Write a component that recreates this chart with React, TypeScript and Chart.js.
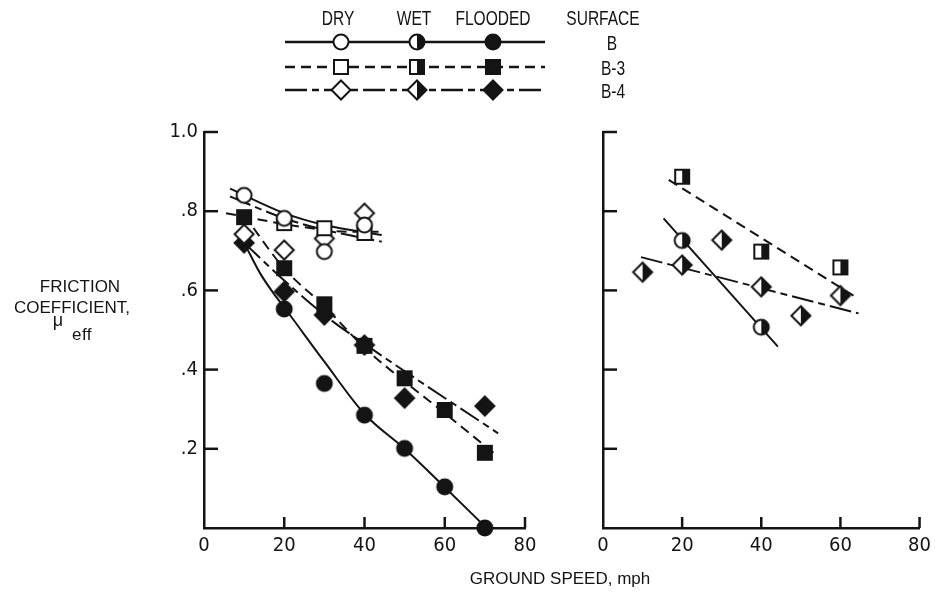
import React, { useEffect, useRef } from 'react';
import { Chart, registerables } from 'chart.js';

Chart.register(...registerables);

const PAGE_W = 937;
const PAGE_H = 594;
const INK = '#141414';
const TEXT_FONT = "'Liberation Sans', Arial, sans-serif";
const TICK_FONT = "'Liberation Sans Narrow', 'DejaVu Sans Condensed', 'Liberation Sans', Arial, sans-serif";

// ---- Axis ticks ----
const xTickLabels = ['0', '20', '40', '60', '80'];
const yTickLabels = ['', '.2', '.4', '.6', '.8', '1.0'];

// ---- Measured points, ground speed (mph) vs effective friction coefficient ----
// Dry runs (left panel)
const dryB_speed = [10, 20, 30, 40];
const dryB_mu = [0.84, 0.782, 0.698, 0.765];
const dryB3_speed = [20, 30, 40];
const dryB3_mu = [0.77, 0.757, 0.745];
const dryB4_speed = [10, 20, 30, 40];
const dryB4_mu = [0.742, 0.702, 0.731, 0.795];

// Flooded runs (left panel)
const floodB_speed = [20, 30, 40, 50, 60, 70];
const floodB_mu = [0.553, 0.365, 0.285, 0.201, 0.104, 0.0];
const floodB3_speed = [10, 20, 30, 40, 50, 60, 70];
const floodB3_mu = [0.785, 0.656, 0.565, 0.46, 0.378, 0.298, 0.19];
const floodB4_speed = [10, 20, 30, 40, 50, 70];
const floodB4_mu = [0.72, 0.597, 0.538, 0.462, 0.328, 0.308];

// Wet runs (right panel)
const wetB_speed = [20, 40];
const wetB_mu = [0.726, 0.507];
const wetB3_speed = [20, 40, 60];
const wetB3_mu = [0.887, 0.698, 0.658];
const wetB4_speed = [10, 20, 30, 40, 50, 60];
const wetB4_mu = [0.646, 0.664, 0.727, 0.609, 0.536, 0.587];

// ---- Faired curves ----
const fairDryB_speed = [6.5, 20, 30, 44.3];
const fairDryB_mu = [0.857, 0.795, 0.765, 0.74];
const fairDryB3_speed = [5.5, 24, 36.4, 44.3];
const fairDryB3_mu = [0.795, 0.761, 0.748, 0.748];
const fairDryB4_speed = [6.5, 20, 30, 44.3];
const fairDryB4_mu = [0.837, 0.782, 0.753, 0.723];

const fairFloodB_speed = [10, 14, 17.3, 20.3, 30, 40, 50, 60, 70.4];
const fairFloodB_mu = [0.72, 0.643, 0.593, 0.553, 0.42, 0.288, 0.2, 0.103, 0.0];
const fairFloodB3_speed = [10, 20, 30, 40, 50, 60, 73.3];
const fairFloodB3_mu = [0.79, 0.655, 0.56, 0.455, 0.37, 0.29, 0.18];
const fairFloodB4_speed = [10, 20, 30, 40, 73.3];
const fairFloodB4_mu = [0.72, 0.625, 0.538, 0.465, 0.239];

const fairWetB_speed = [15.3, 44.2];
const fairWetB_mu = [0.782, 0.458];
const fairWetB3_speed = [16.6, 64.4];
const fairWetB3_mu = [0.879, 0.58];
const fairWetB4_speed = [9.6, 64.6];
const fairWetB4_mu = [0.684, 0.542];

// ---- Key ----
const legendConditions = ['DRY', 'WET', 'FLOODED'];
const legendSurfaces = ['B', 'B-3', 'B-4'];
const surfaceDash: number[][] = [[], [10, 6], [22, 5, 7, 5]];

type Shape = 'circle' | 'square' | 'diamond';
type Fill = 'open' | 'half' | 'full';

function makeMarker(shape: Shape, fill: Fill): HTMLCanvasElement {
  const size = 24;
  const c = document.createElement('canvas');
  c.width = size;
  c.height = size;
  const ctx = c.getContext('2d')!;
  const m = size / 2;
  const path = () => {
    ctx.beginPath();
    if (shape === 'circle') ctx.arc(m, m, 7.5, 0, Math.PI * 2);
    else if (shape === 'square') ctx.rect(m - 7, m - 7, 14, 14);
    else {
      ctx.moveTo(m, m - 9.5);
      ctx.lineTo(m + 9.5, m);
      ctx.lineTo(m, m + 9.5);
      ctx.lineTo(m - 9.5, m);
      ctx.closePath();
    }
  };
  path();
  ctx.fillStyle = fill === 'full' ? INK : '#ffffff';
  ctx.fill();
  if (fill === 'half') {
    ctx.save();
    path();
    ctx.clip();
    ctx.fillStyle = INK;
    ctx.fillRect(m, 0, m, size);
    ctx.restore();
  }
  path();
  ctx.lineWidth = 2;
  ctx.strokeStyle = INK;
  ctx.stroke();
  return c;
}

const pts = (xs: number[], ys: number[]) => xs.map((x, i) => ({ x, y: ys[i] }));

function markerSet(xs: number[], ys: number[], img: HTMLCanvasElement) {
  return {
    data: pts(xs, ys),
    pointStyle: img,
    pointRadius: 8,
    showLine: false,
    clip: false,
    order: 0,
  };
}

function fairSet(xs: number[], ys: number[], dash: number[], curved = false) {
  return {
    data: pts(xs, ys),
    showLine: true,
    pointRadius: 0,
    borderColor: INK,
    borderWidth: 2,
    borderDash: dash,
    cubicInterpolationMode: curved ? 'monotone' : 'default',
    clip: false,
    order: 1,
  };
}

function xScale() {
  return {
    type: 'linear',
    min: 0,
    max: 80,
    grid: { drawOnChartArea: false, drawTicks: false, color: 'rgba(0,0,0,0)' },
    border: { display: true, color: INK, width: 2.5 },
    ticks: {
      stepSize: 20,
      autoSkip: false,
      maxRotation: 0,
      color: INK,
      font: { family: TICK_FONT, size: 20 },
      padding: 6,
      callback: (_v: number, i: number) => xTickLabels[i],
    },
    afterFit: (s: any) => {
      s.height = 30;
    },
  };
}

function yScale(showLabels: boolean, width: number) {
  return {
    type: 'linear',
    min: 0,
    max: 1,
    grid: { drawOnChartArea: false, drawTicks: false, color: 'rgba(0,0,0,0)' },
    border: { display: true, color: INK, width: 2.5 },
    ticks: {
      display: showLabels,
      stepSize: 0.2,
      autoSkip: false,
      color: INK,
      font: { family: TICK_FONT, size: 20 },
      padding: 6,
      callback: (_v: number, i: number) => yTickLabels[i],
    },
    afterFit: (s: any) => {
      s.width = width;
    },
  };
}

// Tick marks pointing into the plot area
const innerTicks = {
  id: 'innerTicks',
  afterDraw(chart: any) {
    const { ctx, chartArea, scales } = chart;
    ctx.save();
    ctx.strokeStyle = INK;
    ctx.lineWidth = 2.5;
    ctx.setLineDash([]);
    scales.x.ticks.forEach((t: any) => {
      if (t.value === 0) return;
      const px = scales.x.getPixelForValue(t.value);
      ctx.beginPath();
      ctx.moveTo(px, chartArea.bottom);
      ctx.lineTo(px, chartArea.bottom - 11);
      ctx.stroke();
    });
    scales.y.ticks.forEach((t: any) => {
      if (t.value === 0) return;
      const py = scales.y.getPixelForValue(t.value);
      ctx.beginPath();
      ctx.moveTo(chartArea.left, py);
      ctx.lineTo(chartArea.left + 14, py);
      ctx.stroke();
    });
    ctx.restore();
  },
};

const baseOptions = {
  responsive: false,
  animation: false,
  events: [],
  plugins: { legend: { display: false }, tooltip: { enabled: false } },
};

function Txt(props: {
  x: number;
  y: number;
  size: number;
  sx?: number;
  ls?: number;
  children: React.ReactNode;
}) {
  const { x, y, size, sx = 1, ls = 0, children } = props;
  return (
    <div
      style={{
        position: 'absolute',
        left: x,
        top: y,
        transform: `translate(-50%, -50%) scaleX(${sx})`,
        fontFamily: TEXT_FONT,
        fontSize: size,
        lineHeight: 1,
        letterSpacing: ls,
        color: INK,
        whiteSpace: 'nowrap',
      }}
    >
      {children}
    </div>
  );
}

export default function App() {
  const leftRef = useRef<HTMLCanvasElement>(null);
  const rightRef = useRef<HTMLCanvasElement>(null);

  useEffect(() => {
    const mk = {
      circle: { open: makeMarker('circle', 'open'), half: makeMarker('circle', 'half'), full: makeMarker('circle', 'full') },
      square: { open: makeMarker('square', 'open'), half: makeMarker('square', 'half'), full: makeMarker('square', 'full') },
      diamond: { open: makeMarker('diamond', 'open'), half: makeMarker('diamond', 'half'), full: makeMarker('diamond', 'full') },
    };
    const rowShapes: Shape[] = ['circle', 'square', 'diamond'];
    const colFills: Fill[] = ['open', 'half', 'full'];
    const rowY = [42, 67, 90];
    const lineSpan = [285, 545];
    const colX = [341, 417, 493];

    const legendKey = {
      id: 'legendKey',
      afterDraw(chart: any) {
        const ctx = chart.ctx;
        ctx.save();
        legendSurfaces.forEach((_s, r) => {
          const y = rowY[r];
          ctx.beginPath();
          ctx.setLineDash(surfaceDash[r]);
          ctx.lineWidth = 2.5;
          ctx.strokeStyle = INK;
          ctx.moveTo(lineSpan[0], y);
          ctx.lineTo(lineSpan[1], y);
          ctx.stroke();
          ctx.setLineDash([]);
          legendConditions.forEach((_c, c) => {
            const img = (mk as any)[rowShapes[r]][colFills[c]] as HTMLCanvasElement;
            ctx.drawImage(img, colX[c] - img.width / 2, y - img.height / 2);
          });
        });
        ctx.restore();
      },
    };

    const left = new Chart(leftRef.current!, {
      type: 'scatter',
      data: {
        datasets: [
          markerSet(dryB_speed, dryB_mu, mk.circle.open),
          markerSet(dryB3_speed, dryB3_mu, mk.square.open),
          markerSet(dryB4_speed, dryB4_mu, mk.diamond.open),
          markerSet(floodB_speed, floodB_mu, mk.circle.full),
          markerSet(floodB3_speed, floodB3_mu, mk.square.full),
          markerSet(floodB4_speed, floodB4_mu, mk.diamond.full),
          fairSet(fairDryB_speed, fairDryB_mu, surfaceDash[0], true),
          fairSet(fairDryB3_speed, fairDryB3_mu, surfaceDash[1], true),
          fairSet(fairDryB4_speed, fairDryB4_mu, surfaceDash[2], true),
          fairSet(fairFloodB_speed, fairFloodB_mu, surfaceDash[0], true),
          fairSet(fairFloodB3_speed, fairFloodB3_mu, surfaceDash[1], true),
          fairSet(fairFloodB4_speed, fairFloodB4_mu, surfaceDash[2], true),
        ] as any,
      },
      options: {
        ...baseOptions,
        layout: { padding: { left: 0, right: PAGE_W - 525, top: 132, bottom: PAGE_H - 528 - 30 } },
        scales: { x: xScale(), y: yScale(true, 204) } as any,
      } as any,
      plugins: [innerTicks, legendKey],
    });

    const right = new Chart(rightRef.current!, {
      type: 'scatter',
      data: {
        datasets: [
          markerSet(wetB_speed, wetB_mu, mk.circle.half),
          markerSet(wetB3_speed, wetB3_mu, mk.square.half),
          markerSet(wetB4_speed, wetB4_mu, mk.diamond.half),
          fairSet(fairWetB_speed, fairWetB_mu, surfaceDash[0]),
          fairSet(fairWetB3_speed, fairWetB3_mu, surfaceDash[1]),
          fairSet(fairWetB4_speed, fairWetB4_mu, surfaceDash[2]),
        ] as any,
      },
      options: {
        ...baseOptions,
        layout: { padding: { left: 603, right: PAGE_W - 926, top: 132, bottom: PAGE_H - 528 - 30 } },
        scales: { x: xScale(), y: yScale(false, 0) } as any,
      } as any,
      plugins: [innerTicks],
    });

    return () => {
      left.destroy();
      right.destroy();
    };
  }, []);

  return (
    <div
      style={{
        position: 'absolute',
        left: 0,
        top: 0,
        width: PAGE_W,
        height: PAGE_H,
        background: '#ffffff',
        overflow: 'hidden',
      }}
    >
      <canvas ref={leftRef} width={PAGE_W} height={PAGE_H} style={{ position: 'absolute', left: 0, top: 0 }} />
      <canvas ref={rightRef} width={PAGE_W} height={PAGE_H} style={{ position: 'absolute', left: 0, top: 0 }} />

      <Txt x={338} y={17} size={21} sx={0.74}>{legendConditions[0]}</Txt>
      <Txt x={414} y={17} size={21} sx={0.74}>{legendConditions[1]}</Txt>
      <Txt x={493} y={17} size={21} sx={0.74}>{legendConditions[2]}</Txt>
      <Txt x={603} y={17} size={21} sx={0.74}>SURFACE</Txt>
      <Txt x={612} y={42} size={21} sx={0.74}>{legendSurfaces[0]}</Txt>
      <Txt x={613} y={67} size={21} sx={0.74}>{legendSurfaces[1]}</Txt>
      <Txt x={613} y={90} size={21} sx={0.74}>{legendSurfaces[2]}</Txt>

      <Txt x={80} y={286} size={17}>FRICTION</Txt>
      <Txt x={72} y={307} size={17}>COEFFICIENT,</Txt>
      <Txt x={58} y={320} size={18}>μ</Txt>
      <Txt x={82} y={334} size={17} ls={0.5}>eff</Txt>

      <Txt x={560} y={578} size={17}>GROUND SPEED, mph</Txt>
    </div>
  );
}
